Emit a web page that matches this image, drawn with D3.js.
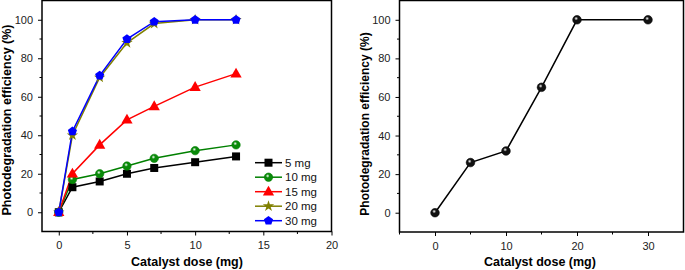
<!DOCTYPE html>
<html>
<head>
<meta charset="utf-8">
<script src="https://cdn.jsdelivr.net/npm/d3@7"></script>
<style>
  body { margin: 0; background: #fff; }
  svg text { font-family: "Liberation Sans", Arial, sans-serif; }
</style>
</head>
<body>
<svg width="685" height="270"></svg>
<script>
// left panel data
const times = [0, 1, 3, 5, 7, 10, 13];
const seriesNames = ['5 mg', '10 mg', '15 mg', '20 mg', '30 mg'];
const eff5 = [0, 13, 16, 20, 23, 26, 29];
const eff10 = [0, 17, 20, 24, 28, 32, 35];
const eff15 = [0, 20, 35, 48, 55, 65, 72];
const eff20 = [0, 40, 70, 88, 98, 100, 100];
const eff30 = [0, 42, 71, 90, 99, 100, 100];

// right panel data
const doses = [0, 5, 10, 15, 20, 30];
const doseEff = [0, 26, 32, 65, 100, 100];

const leftTicksX = [0, 5, 10, 15, 20];
const leftMinorX = [2.5, 7.5, 12.5, 17.5];
const rightTicksX = [0, 10, 20, 30];
const rightMinorX = [-5, 5, 15, 25];
const ticksY = [0, 20, 40, 60, 80, 100];
const minorY = [10, 30, 50, 70, 90];

const svg = d3.select('svg');

const defs = svg.append('defs');
function ballGrad(id, base) {
  const g = defs.append('radialGradient').attr('id', id)
    .attr('cx', '40%').attr('cy', '35%').attr('r', '65%');
  g.append('stop').attr('offset', '0%').attr('stop-color', '#fff');
  g.append('stop').attr('offset', '35%').attr('stop-color', base);
  g.append('stop').attr('offset', '100%').attr('stop-color', base);
}
ballGrad('ballGreen', '#0a8a0a');
ballGrad('ballBlack', '#111');

const series = [
  { name: seriesNames[0], values: eff5, color: '#000000', shape: 'square' },
  { name: seriesNames[1], values: eff10, color: '#008000', shape: 'ball' },
  { name: seriesNames[2], values: eff15, color: '#ff0000', shape: 'triangle' },
  { name: seriesNames[3], values: eff20, color: '#808000', shape: 'star' },
  { name: seriesNames[4], values: eff30, color: '#0000ff', shape: 'pentagon' },
];

function drawMarker(g, shape, color, x, y) {
  if (shape === 'square') {
    g.append('rect').attr('x', x - 4).attr('y', y - 4).attr('width', 8).attr('height', 8).attr('fill', color);
  } else if (shape === 'ball') {
    g.append('circle').attr('cx', x).attr('cy', y).attr('r', 4.2)
      .attr('fill', 'url(#ballGreen)').attr('stroke', color).attr('stroke-width', 0.6);
  } else if (shape === 'triangle') {
    g.append('path').attr('transform', `translate(${x},${y + 0.5})`)
      .attr('d', d3.symbol(d3.symbolTriangle, 55)()).attr('fill', color);
  } else if (shape === 'star') {
    g.append('path').attr('transform', `translate(${x},${y})`)
      .attr('d', d3.symbol(d3.symbolStar, 40)()).attr('fill', color);
  } else if (shape === 'pentagon') {
    const pts = d3.range(5).map(i => {
      const a = -Math.PI / 2 + i * 2 * Math.PI / 5;
      return [x + 4.8 * Math.cos(a), y + 4.8 * Math.sin(a)];
    });
    g.append('polygon').attr('points', pts.map(p => p.join(',')).join(' ')).attr('fill', color);
  } else if (shape === 'blackball') {
    g.append('circle').attr('cx', x).attr('cy', y).attr('r', 4.3)
      .attr('fill', 'url(#ballBlack)').attr('stroke', '#000').attr('stroke-width', 0.6);
  }
}

function drawFrame(g, x, y, xTicks, xMinor, titleX, titleY, titleSize) {
  const [x0, x1] = x.range();
  const [y0, y1] = y.range();
  g.append('rect').attr('x', x0).attr('y', y1).attr('width', x1 - x0).attr('height', y0 - y1)
    .attr('fill', 'none').attr('stroke', '#000').attr('stroke-width', 1.5);

  const xa = g.append('g').attr('transform', `translate(0,${y0})`)
    .call(d3.axisBottom(x).tickValues(xTicks).tickSize(4).tickPadding(6).tickFormat(d3.format('d')));
  xa.append('g').selectAll('line').data(xMinor).join('line')
    .attr('x1', d => x(d)).attr('x2', d => x(d)).attr('y1', 0).attr('y2', 2.5).attr('stroke', '#000');

  const ya = g.append('g').attr('transform', `translate(${x0},0)`)
    .call(d3.axisLeft(y).tickValues(ticksY).tickSize(4).tickPadding(5));
  ya.append('g').selectAll('line').data(minorY).join('line')
    .attr('y1', d => y(d)).attr('y2', d => y(d)).attr('x1', 0).attr('x2', -2.5).attr('stroke', '#000');

  [xa, ya].forEach(a => {
    a.select('.domain').remove();
    a.selectAll('.tick line').attr('stroke', '#000');
    a.selectAll('.tick text').attr('font-size', 11).attr('fill', '#222');
  });

  g.append('text').attr('x', titleX).attr('y', 266).attr('text-anchor', 'middle')
    .attr('font-size', 12.5).attr('font-weight', 'bold').text('Catalyst dose (mg)');
  g.append('text').attr('transform', `translate(${x0 - 31},${titleY}) rotate(-90)`)
    .attr('text-anchor', 'middle').attr('font-size', titleSize).attr('font-weight', 'bold')
    .text('Photodegradation efficiency (%)');
}

// ---------- left panel ----------
const xL = d3.scaleLinear().domain([-1.23, 20]).range([42, 331.5]);
const yL = d3.scaleLinear().domain([-10, 110]).range([231.5, 0.5]);
const left = svg.append('g');
drawFrame(left, xL, yL, leftTicksX, leftMinorX, 187, 120, 12.5);

const lineL = d3.line().x((d, i) => xL(times[i])).y(d => yL(d));
series.forEach(s => {
  left.append('path').attr('d', lineL(s.values)).attr('fill', 'none')
    .attr('stroke', s.color).attr('stroke-width', 1.5);
});
series.forEach(s => {
  const mg = left.append('g');
  s.values.forEach((v, i) => drawMarker(mg, s.shape, s.color, xL(times[i]), yL(v)));
});

// legend
const legend = left.append('g');
series.forEach((s, i) => {
  const ly = 162.7 + i * 14.5;
  legend.append('line').attr('x1', 255).attr('x2', 282).attr('y1', ly).attr('y2', ly)
    .attr('stroke', s.color).attr('stroke-width', 1.5);
  drawMarker(legend, s.shape, s.color, 268.5, ly);
  legend.append('text').attr('x', 285).attr('y', ly + 4).attr('font-size', 11.5).attr('fill', '#111').text(s.name);
});

// ---------- right panel ----------
const xR = d3.scaleLinear().domain([-5, 35]).range([399.5, 683.5]);
const yR = d3.scaleLinear().domain([-10, 110]).range([232, 0.5]);
const right = svg.append('g');
drawFrame(right, xR, yR, rightTicksX, rightMinorX, 540, 124, 12);

const lineR = d3.line().x((d, i) => xR(doses[i])).y(d => yR(d));
right.append('path').attr('d', lineR(doseEff)).attr('fill', 'none')
  .attr('stroke', '#000').attr('stroke-width', 1.5);
const rm = right.append('g');
doseEff.forEach((v, i) => drawMarker(rm, 'blackball', '#000', xR(doses[i]), yR(v)));
</script>
</body>
</html>
